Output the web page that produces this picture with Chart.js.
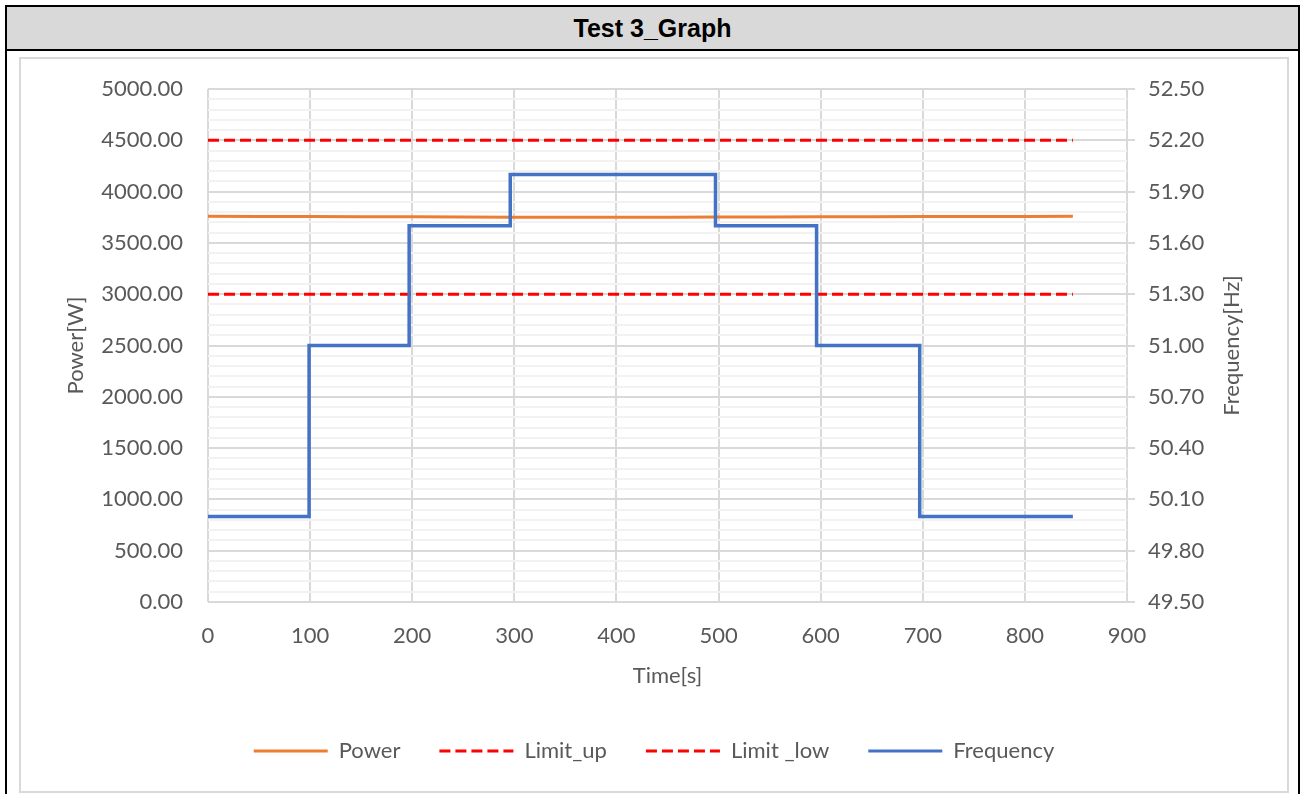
<!DOCTYPE html>
<html>
<head>
<meta charset="utf-8">
<title>Test 3_Graph</title>
<script src="https://cdn.jsdelivr.net/npm/chart.js@4.4.1/dist/chart.umd.min.js"></script>
<style>
  html, body { margin: 0; padding: 0; background: #fff; overflow: hidden; }
  #outer {
    position: absolute; left: 5px; top: 5px; width: 1295px; height: 800px;
    box-sizing: border-box; border: 2px solid #000;
  }
  #titlebar {
    position: absolute; left: 0; top: 0; right: 0; height: 44px;
    box-sizing: border-box; background: #d9d9d9; border-bottom: 2px solid #000;
    font: bold 25px "Liberation Sans", Arial, sans-serif; color: #000;
    text-align: center; line-height: 42px;
  }
  #frame {
    position: absolute; left: 19px; top: 57px; width: 1270px; height: 736px;
    box-sizing: border-box; border: 2px solid #d9d9d9;
  }
  #chart { position: absolute; left: 21px; top: 59px; }
</style>
</head>
<body>
<div id="outer"><div id="titlebar">Test 3_Graph</div></div>
<div id="frame"></div>
<canvas id="chart" width="1266" height="752"></canvas>
<script>
// data
const limitTimes = [0, 847];
const limitUp = [4500, 4500];
const limitLow = [3000, 3000];

const powerTimes = [0, 50, 100, 150, 200, 250, 300, 350, 400, 450, 500, 550, 600, 650, 700, 750, 800, 847];
const powerValues = [3760, 3758, 3757, 3755, 3755, 3753, 3750, 3750, 3750, 3750, 3752, 3752, 3755, 3755, 3757, 3757, 3758, 3760];

const freqTimes = [0, 99, 197, 296, 497, 596, 697, 847];
const freqValues = [50.0, 51.0, 51.7, 52.0, 51.7, 51.0, 50.0, 50.0];

const xRange = [0, 900, 100];
const powerRange = [0, 5000, 500];
const freqRange = [49.5, 52.5, 0.3];

const textColor = '#595959';
const gridMajor = '#d9d9d9';
const gridMinor = '#f2f2f2';

function toPoints(xs, ys) {
    return xs.map((x, i) => ({ x: x, y: ys[i] }));
}

Chart.defaults.font.family = 'Lato';
Chart.defaults.font.size = 22;
Chart.defaults.color = textColor;

// right axis title reads bottom to top like the left one
const rightTitle = {
    id: 'rightTitle',
    afterDraw(chart) {
        const s = chart.scales.y2;
        const c = chart.ctx;
        c.save();
        c.translate(s.right - 55, (chart.chartArea.top + chart.chartArea.bottom) / 2);
        c.rotate(-Math.PI / 2);
        c.font = '22px Lato';
        c.fillStyle = textColor;
        c.textAlign = 'center';
        c.textBaseline = 'middle';
        c.fillText('Frequency[Hz]', 0, 0);
        c.restore();
    }
};

var ctx = document.getElementById('chart').getContext('2d');
var chart = new Chart(ctx, {
    type: 'line',
    data: {
        datasets: [{
            label: 'Power',
            data: toPoints(powerTimes, powerValues),
            borderColor: '#ED7D31',
            borderWidth: 3,
            yAxisID: 'y',
            order: 3
        }, {
            label: 'Limit_up',
            data: toPoints(limitTimes, limitUp),
            borderColor: '#FF0000',
            borderWidth: 3,
            borderDash: [11, 5],
            yAxisID: 'y',
            order: 2
        }, {
            label: 'Limit _low',
            data: toPoints(limitTimes, limitLow),
            borderColor: '#FF0000',
            borderWidth: 3,
            borderDash: [11, 5],
            yAxisID: 'y',
            order: 1
        }, {
            label: 'Frequency',
            data: toPoints(freqTimes, freqValues),
            borderColor: '#4472C4',
            borderWidth: 3.5,
            stepped: true,
            yAxisID: 'y2',
            order: 0
        }]
    },
    options: {
        responsive: false,
        animation: false,
        devicePixelRatio: 1,
        elements: { point: { radius: 0 }, line: { tension: 0 } },
        layout: { padding: { top: 30, left: 0, right: 0, bottom: 39 } },
        scales: {
            x: {
                type: 'linear',
                min: xRange[0],
                max: xRange[1],
                ticks: { stepSize: xRange[2], padding: 21, color: textColor },
                grid: { color: gridMajor, lineWidth: 2, drawTicks: false },
                border: { display: false },
                title: { display: true, text: 'Time[s]', color: textColor, padding: { top: 0, bottom: 12 } },
                afterFit: function (scale) { scale.height = 99; }
            },
            y: {
                position: 'left',
                min: powerRange[0],
                max: powerRange[1],
                z: -1,
                ticks: {
                    stepSize: 100,
                    autoSkip: false,
                    padding: 25,
                    color: textColor,
                    callback: v => (v % powerRange[2] === 0 ? v.toFixed(2) : '')
                },
                grid: {
                    drawTicks: false,
                    lineWidth: 2,
                    color: c => (c.tick.value % powerRange[2] === 0 ? gridMajor : gridMinor)
                },
                border: { display: false },
                title: { display: true, text: 'Power[W]', color: textColor, padding: { top: 42, bottom: 0 } },
                afterFit: function (scale) {
                    scale.width = 187;
                    scale.paddingTop = 0;
                    scale.paddingBottom = 0;
                }
            },
            y2: {
                position: 'right',
                min: freqRange[0],
                max: freqRange[1],
                ticks: {
                    stepSize: freqRange[2],
                    padding: 13,
                    color: textColor,
                    callback: v => v.toFixed(2)
                },
                grid: { drawOnChartArea: false, drawTicks: true, tickLength: 8, lineWidth: 2, color: gridMajor },
                border: { display: false },
                afterFit: function (scale) {
                    scale.width = 160;
                    scale.paddingTop = 0;
                    scale.paddingBottom = 0;
                }
            }
        },
        plugins: {
            tooltip: { enabled: false },
            legend: {
                position: 'bottom',
                labels: {
                    usePointStyle: true,
                    pointStyle: 'line',
                    pointStyleWidth: 74,
                    padding: 39,
                    color: textColor,
                    generateLabels: function (chart) {
                        return chart.data.datasets.map((ds, i) => ({
                            text: ds.label,
                            strokeStyle: ds.borderColor,
                            fillStyle: ds.borderColor,
                            lineWidth: 3,
                            lineDash: ds.borderDash || [],
                            pointStyle: 'line',
                            fontColor: textColor,
                            hidden: false,
                            datasetIndex: i
                        }));
                    }
                }
            }
        }
    },
    plugins: [rightTitle]
});
</script>
</body>
</html>
